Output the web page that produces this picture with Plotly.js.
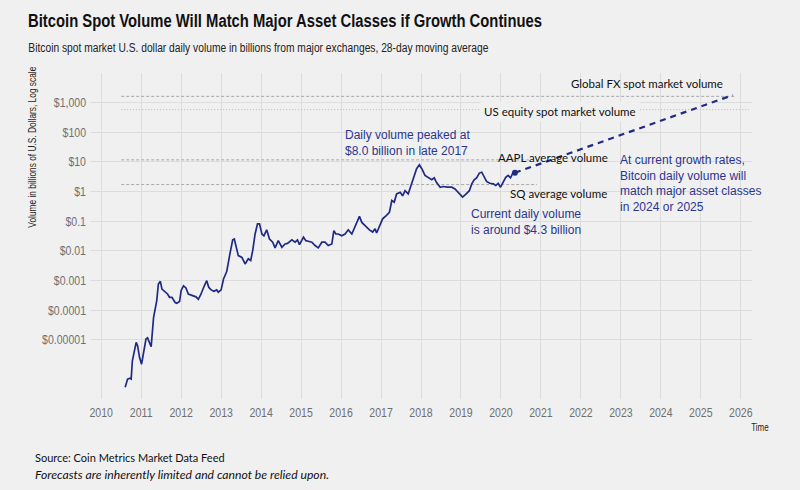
<!DOCTYPE html>
<html>
<head>
<meta charset="utf-8">
<script src="https://cdn.plot.ly/plotly-3.0.1.min.js"></script>
<style>html,body{margin:0;padding:0;background:#f0f0f0;}#chart{width:800px;height:490px;}</style>
</head>
<body>
<div id="chart"></div>
<script>
// Bitcoin spot volume, 28-day moving average (billions USD)
const years = [2010.60,2010.66,2010.72,2010.75,2010.78,2010.85,2010.875,2010.91,2010.96,2011.01,2011.06,2011.12,2011.16,2011.21,2011.25,2011.31,2011.35,2011.39,2011.43,2011.48,2011.52,2011.60,2011.66,2011.71,2011.77,2011.85,2011.89,2011.96,2012.00,2012.06,2012.12,2012.18,2012.27,2012.37,2012.43,2012.49,2012.58,2012.64,2012.69,2012.75,2012.82,2012.89,2012.93,2013.00,2013.06,2013.14,2013.22,2013.29,2013.33,2013.38,2013.43,2013.52,2013.60,2013.68,2013.74,2013.79,2013.85,2013.91,2013.96,2014.02,2014.07,2014.14,2014.21,2014.29,2014.35,2014.43,2014.52,2014.60,2014.66,2014.77,2014.85,2014.91,2014.96,2015.06,2015.12,2015.18,2015.27,2015.35,2015.43,2015.52,2015.60,2015.68,2015.77,2015.82,2015.87,2015.93,2016.02,2016.10,2016.18,2016.27,2016.37,2016.46,2016.52,2016.60,2016.71,2016.79,2016.85,2016.89,2016.96,2017.04,2017.13,2017.21,2017.27,2017.33,2017.39,2017.48,2017.54,2017.60,2017.68,2017.77,2017.82,2017.89,2017.96,2018.02,2018.10,2018.18,2018.27,2018.33,2018.39,2018.48,2018.56,2018.66,2018.77,2018.85,2018.93,2019.04,2019.13,2019.21,2019.27,2019.33,2019.39,2019.46,2019.52,2019.58,2019.64,2019.72,2019.81,2019.87,2019.93,2019.99,2020.06,2020.12,2020.18,2020.24,2020.29,2020.35];
const volume = [2.5e-7,4.7e-7,5.0e-7,4.7e-7,1.95e-6,6.3e-6,8.1e-6,6.3e-6,2.5e-6,1.5e-6,3.3e-6,1.05e-5,1.15e-5,7.1e-6,5.8e-6,5.6e-5,1.23e-4,2.1e-4,7.6e-4,9.3e-4,5.1e-4,4.0e-4,3.5e-4,2.7e-4,2.7e-4,1.8e-4,1.7e-4,1.95e-4,4.6e-4,6.6e-4,5.6e-4,3.5e-4,3.2e-4,2.8e-4,2.3e-4,3.3e-4,6.6e-4,9.8e-4,5.9e-4,4.8e-4,4.3e-4,4.8e-4,4.0e-4,4.8e-4,1.12e-3,2.0e-3,7.9e-3,0.0234,0.0251,0.0115,0.0069,0.006,0.0036,0.0054,0.0047,0.0102,0.037,0.081,0.081,0.037,0.032,0.051,0.025,0.0195,0.0126,0.022,0.0132,0.017,0.0178,0.0234,0.0195,0.0234,0.0162,0.0288,0.022,0.021,0.0195,0.0151,0.0126,0.0195,0.0195,0.0151,0.017,0.048,0.037,0.037,0.032,0.037,0.051,0.037,0.081,0.145,0.091,0.071,0.051,0.043,0.055,0.04,0.071,0.12,0.155,0.2,0.5,0.44,0.83,0.95,0.72,1.07,0.83,1.82,3.0,5.9,8.0,5.9,3.5,2.9,2.5,2.9,2.0,1.4,1.48,1.4,1.4,1.23,0.95,0.65,0.83,1.07,1.82,2.5,2.9,4.2,4.5,3.2,2.2,1.9,1.82,1.6,1.9,1.4,2.0,3.0,3.5,2.9,4.0,4.3];

// projection at current growth rates
const projYears = [2020.35, 2025.8];
const projVolume = [4.3, 1800];

// reference volumes (billions USD)
const refNames = ["Global FX spot market volume","US equity spot market volume","AAPL average volume","SQ average volume"];
const refValues = [1630, 580, 11.7, 1.72];
const refStart = [2010.5, 2010.5, 2010.5, 2010.5];
const refEnd = [2025.85, 2026.2, 2020.7, 2020.9];

const yTickVals = [1e-5,1e-4,1e-3,1e-2,1e-1,1,10,100,1000];
const yTickText = ["$0.00001","$0.0001","$0.001","$0.01","$0.1","$1","$10","$100","$1,000"];
const xTickVals = [2010,2011,2012,2013,2014,2015,2016,2017,2018,2019,2020,2021,2022,2023,2024,2025,2026];

const SANS = "Liberation Sans, Arial, sans-serif";
const GEO = "Lato, Noto Sans, sans-serif";
const BLUE = "#2b3590";
const NAVY = "#1f2a83";

const refStyles = [
  {color:"#a8a8a8", dash:"3px,2px"},
  {color:"#d9a8a8", dash:"1px,2px"},
  {color:"#a8a8a8", dash:"3px,2px"},
  {color:"#a8a8a8", dash:"3px,2px"}
];

const traces = [];
refNames.forEach((n,i)=>{
  traces.push({x:[refStart[i],refEnd[i]], y:[refValues[i],refValues[i]], mode:"lines", name:n,
    line:{color:refStyles[i].color, width:1, dash:refStyles[i].dash}, hoverinfo:"skip"});
});
traces.push({x:projYears, y:projVolume, mode:"lines", name:"projection",
  line:{color:NAVY, width:2.2, dash:"6px,5px"}});
traces.push({x:years, y:volume, mode:"lines", name:"Bitcoin", line:{color:NAVY, width:1.7}});
traces.push({x:[years[years.length-1]], y:[volume[volume.length-1]], mode:"markers", name:"current",
  marker:{color:NAVY, size:6}});

const PW = 662, PH = 325.6, PL = 90, PB = 398.6;
const px = v => (v - PL) / PW;
const py = v => (PB - v) / PH;

const layout = {
  width:800, height:490,
  paper_bgcolor:"#f0f0f0", plot_bgcolor:"#f0f0f0",
  showlegend:false,
  margin:{l:90, r:48, t:73, b:91},
  title:{text:"Bitcoin Spot Volume Will Match Major Asset Classes if Growth Continues",
    x:28/800, xref:"container", xanchor:"left", y:1-21/490, yref:"container", yanchor:"middle",
    font:{family:SANS, size:18, color:"#111", weight:"bold"}},
  xaxis:{range:[2009.72,2026.28], tickvals:xTickVals, ticktext:xTickVals.map(String),
    showgrid:true, gridcolor:"#dcdcdc", gridwidth:1, zeroline:false, showline:false, ticks:"",
    tickfont:{family:SANS, size:13, color:"#6f6f6f"}, ticklabelstandoff:4},
  yaxis:{type:"log", range:[-7,4], tickvals:yTickVals, ticktext:yTickText,
    showgrid:true, gridcolor:"#dcdcdc", gridwidth:1, zeroline:false, showline:false, ticks:"",
    tickfont:{family:SANS, size:13, color:"#6f6f6f"}, ticklabelstandoff:3},
  annotations:[
    {text:"Bitcoin spot market U.S. dollar daily volume in billions from major exchanges, 28-day moving average",
      xref:"paper", yref:"paper", x:px(258), y:py(48), xanchor:"center", yanchor:"middle",
      showarrow:false, font:{family:SANS, size:12.5, color:"#222"}},
    {text:"Volume in billions of U.S. Dollars, Log scale", textangle:-90,
      xref:"paper", yref:"paper", x:px(33), y:py(147.5), xanchor:"center", yanchor:"middle",
      showarrow:false, font:{family:SANS, size:10, color:"#222"}},
    {text:"Time", xref:"paper", yref:"paper", x:px(760), y:py(427),
      xanchor:"center", yanchor:"middle", showarrow:false, font:{family:SANS, size:10, color:"#222"}},
    {text:"Source: Coin Metrics Market Data Feed", xref:"paper", yref:"paper",
      x:px(33), y:py(457), xanchor:"left", yanchor:"middle", showarrow:false,
      font:{family:GEO, size:11, color:"#111"}},
    {text:"<i>Forecasts are inherently limited and cannot be relied upon.</i>", xref:"paper", yref:"paper",
      x:px(33), y:py(474), xanchor:"left", yanchor:"middle", showarrow:false,
      font:{family:GEO, size:12.2, color:"#111"}},
    {text:"Global FX spot market volume", x:2023.66, y:3.65, xanchor:"center", yanchor:"middle",
      showarrow:false, font:{family:GEO, size:11.5, color:"#111"}},
    {text:"US equity spot market volume", x:2021.475, y:2.70, xanchor:"center", yanchor:"middle",
      showarrow:false, bgcolor:"#f0f0f0", borderpad:3, font:{family:GEO, size:11.5, color:"#111"}},
    {text:"AAPL average volume", x:2021.29, y:1.15, xanchor:"center", yanchor:"middle",
      showarrow:false, font:{family:GEO, size:11.5, color:"#111"}},
    {text:"SQ average volume", x:2021.44, y:-0.07, xanchor:"center", yanchor:"middle",
      showarrow:false, font:{family:GEO, size:11.5, color:"#111"}},
    {text:"Daily volume peaked at<br>$8.0 billion in late 2017", x:2016.05, y:1.655, xanchor:"left", yanchor:"middle",
      align:"left", showarrow:false, font:{family:SANS, size:12, color:BLUE}},
    {text:"Current daily volume<br>is around $4.3 billion", x:2019.2, y:-1.04, xanchor:"left", yanchor:"middle",
      align:"left", showarrow:false, font:{family:SANS, size:12, color:BLUE}},
    {text:"At current growth rates,<br>Bitcoin daily volume will<br>match major asset classes<br>in 2024 or 2025",
      x:2022.925, y:0.26, xanchor:"left", yanchor:"middle",
      align:"left", showarrow:false, font:{family:SANS, size:12, color:BLUE}}
  ]
};

// Squeeze Helvetica-like text horizontally to mimic the condensed face of the original
function squeeze(el, width) {
  if (!el) return;
  el.setAttribute("lengthAdjust", "spacingAndGlyphs");
  el.setAttribute("textLength", width);
}
function squeezeRatio(el, ratio) {
  if (!el) return;
  const w = el.getComputedTextLength();
  squeeze(el, w * ratio);
}

Plotly.newPlot("chart", traces, layout, {staticPlot:true, displayModeBar:false}).then(gd => {
  squeeze(gd.querySelector(".gtitle"), 514);
  const ann = i => gd.querySelector('g.annotation[data-index="' + i + '"] text.annotation-text');
  squeeze(ann(0), 460);
  squeeze(ann(1), 161);
  squeezeRatio(ann(2), 0.8);
  gd.querySelectorAll(".xtick text, .ytick text").forEach(t => squeezeRatio(t, 0.81));
});
</script>
</body>
</html>
